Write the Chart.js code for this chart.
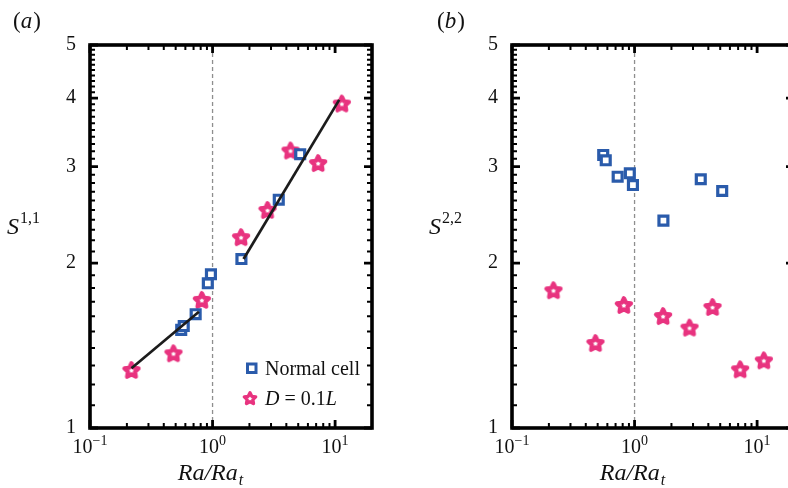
<!DOCTYPE html>
<html>
<head>
<meta charset="utf-8">
<script src="https://cdn.jsdelivr.net/npm/chart.js@4.4.1/dist/chart.umd.min.js"></script>
<style>
  html, body { margin: 0; padding: 0; background: #fff; }
  #wrap { position: relative; width: 788px; height: 488px; overflow: hidden; }
  #c1 { position: absolute; left: 0; top: 0; }
  #c2 { position: absolute; left: 394px; top: 0; }
</style>
</head>
<body>
<div id="wrap">
  <canvas id="c1" width="394" height="488" style="width:394px;height:488px"></canvas>
  <canvas id="c2" width="410" height="488" style="width:410px;height:488px"></canvas>
</div>
<script>
// Ra/Ra_t of each run
const cellX = [0.555, 0.582, 0.728, 0.915, 0.97, 1.72, 3.47, 5.19];
const holeX = [0.218, 0.48, 0.818, 1.71, 2.81, 4.33, 7.27, 11.35];

// panel (a): S^{1,1}
const cellS11 = [1.51, 1.535, 1.613, 1.837, 1.908, 2.034, 2.61, 3.16];
const holeS11 = [1.276, 1.369, 1.713, 2.23, 2.50, 3.21, 3.045, 3.91];

// panel (b): S^{2,2}
const cellS22 = [3.15, 3.08, 2.875, 2.916, 2.776, 2.39, 2.844, 2.707];
const holeS22 = [1.784, 1.429, 1.677, 1.601, 1.525, 1.663, 1.280, 1.329];

// fitted lines in panel (a)
const fitLowX = [0.218, 0.774];
const fitLowY = [1.285, 1.63];
const fitHighX = [1.79, 10.8];
const fitHighY = [2.034, 3.97];

// threshold Ra = Ra_t
const vlineX = [1, 1];
const vlineY = [1, 5];

// ticks
const xMajor = [0.1, 1, 10];
const xExp = ['\u22121', '0', '1'];
const xMinor = [0.2, 0.3, 0.4, 0.5, 0.6, 0.7, 0.8, 0.9, 2, 3, 4, 5, 6, 7, 8, 9, 20];
const yMajor = [1, 2, 3, 4, 5];
const yMinor = [];
for (let i = 11; i < 50; i++) if (i % 10) yMinor.push(i / 10);

const serif = '"Liberation Serif", "Times New Roman", serif';
const BLUE = '#2a5bab';
const PINK = '#e8337f';
const INK = '#111';

function pts(xs, ys) {
  return xs.map((x, i) => ({ x, y: ys[i] }));
}

function starImage(size, rOut, lw) {
  const c = document.createElement('canvas');
  c.width = size; c.height = size;
  const g = c.getContext('2d');
  const cx = size / 2, cy = size / 2 + 0.7, rIn = rOut * 0.5;
  g.beginPath();
  for (let i = 0; i < 10; i++) {
    const r = i % 2 ? rIn : rOut;
    const a = -Math.PI / 2 + i * Math.PI / 5;
    g.lineTo(cx + r * Math.cos(a), cy + r * Math.sin(a));
  }
  g.closePath();
  g.fillStyle = '#fff';
  g.fill();
  g.lineJoin = 'round';
  g.lineWidth = lw;
  g.strokeStyle = PINK;
  g.stroke();
  return c;
}

const starPt = starImage(26, 7.4, 4.2);
const starLeg = starImage(22, 6.0, 3.3);

// frame with inward ticks, x tick labels, titles
const decoPlugin = {
  id: 'deco',
  afterDatasetsDraw(chart, args, opts) {
    const { ctx, chartArea: a, scales: { x, y } } = chart;
    ctx.save();
    ctx.strokeStyle = '#000';

    ctx.lineWidth = 2;
    ctx.beginPath();
    xMinor.forEach(v => {
      const p = x.getPixelForValue(v);
      ctx.moveTo(p, a.bottom); ctx.lineTo(p, a.bottom - 5);
      ctx.moveTo(p, a.top); ctx.lineTo(p, a.top + 5);
    });
    yMinor.forEach(v => {
      const p = y.getPixelForValue(v);
      ctx.moveTo(a.left, p); ctx.lineTo(a.left + 5, p);
      ctx.moveTo(a.right, p); ctx.lineTo(a.right - 5, p);
    });
    ctx.stroke();

    ctx.lineWidth = 2.8;
    ctx.beginPath();
    xMajor.forEach(v => {
      const p = x.getPixelForValue(v);
      ctx.moveTo(p, a.bottom); ctx.lineTo(p, a.bottom - 8);
      ctx.moveTo(p, a.top); ctx.lineTo(p, a.top + 8);
    });
    yMajor.forEach(v => {
      const p = y.getPixelForValue(v);
      ctx.moveTo(a.left, p); ctx.lineTo(a.left + 8, p);
      ctx.moveTo(a.right, p); ctx.lineTo(a.right - 8, p);
    });
    ctx.stroke();

    ctx.lineWidth = 3.6;
    ctx.strokeRect(a.left, a.top, a.right - a.left, a.bottom - a.top);

    // x tick labels 10^n
    ctx.fillStyle = INK;
    ctx.textBaseline = 'alphabetic';
    ctx.textAlign = 'left';
    xMajor.forEach((v, i) => {
      const p = x.getPixelForValue(v);
      ctx.font = '20px ' + serif;
      const wb = ctx.measureText('10').width;
      ctx.font = '14px ' + serif;
      const we = ctx.measureText(xExp[i]).width;
      const x0 = p - (wb + we) / 2;
      ctx.font = '20px ' + serif;
      ctx.fillText('10', x0, a.bottom + 25);
      ctx.font = '14px ' + serif;
      ctx.fillText(xExp[i], x0 + wb, a.bottom + 17);
    });

    // x title Ra/Ra_t
    ctx.font = 'italic 24px ' + serif;
    const main = 'Ra/Ra';
    const wm = ctx.measureText(main).width;
    ctx.font = 'italic 16px ' + serif;
    const wt = ctx.measureText('t').width;
    const tx = a.left + 120 - (wm + wt) / 2;
    ctx.font = 'italic 24px ' + serif;
    ctx.fillText(main, tx, a.bottom + 52);
    ctx.font = 'italic 16px ' + serif;
    ctx.fillText('t', tx + wm + 1, a.bottom + 57);

    // y title S^{i,i}
    const sx = a.left - 83;
    ctx.font = 'italic 24px ' + serif;
    ctx.fillText('S', sx, 234);
    const ws = ctx.measureText('S').width;
    ctx.font = '16px ' + serif;
    ctx.fillText(opts.sup, sx + ws + 1, 223);

    // panel label
    const lx = a.left + opts.labelDx;
    ctx.font = '23px ' + serif;
    ctx.fillText('(', lx, 28);
    let w = ctx.measureText('(').width;
    ctx.font = 'italic 23px ' + serif;
    ctx.fillText(opts.panel, lx + w, 28);
    w += ctx.measureText(opts.panel).width;
    ctx.font = '23px ' + serif;
    ctx.fillText(')', lx + w + 1, 28);

    // legend (panel a only)
    if (opts.legend) {
      ctx.strokeStyle = BLUE;
      ctx.lineWidth = 3;
      ctx.fillStyle = '#fff';
      ctx.fillRect(247.5, 364, 8.5, 8.5);
      ctx.strokeRect(247.5, 364, 8.5, 8.5);
      ctx.drawImage(starLeg, 250 - 11, 398 - 11);
      ctx.fillStyle = INK;
      ctx.font = '20px ' + serif;
      ctx.fillText('Normal cell', 265, 375);
      ctx.font = 'italic 20px ' + serif;
      ctx.fillText('D', 265, 405);
      let lw = ctx.measureText('D').width;
      ctx.font = '20px ' + serif;
      ctx.fillText(' = 0.1', 265 + lw, 405);
      lw += ctx.measureText(' = 0.1').width;
      ctx.font = 'italic 20px ' + serif;
      ctx.fillText('L', 265 + lw, 405);
    }
    ctx.restore();
  }
};

function makeChart(id, cellY, holeY, withFits, yWidth, padRight, opts) {
  const datasets = [];
  if (withFits) {
    datasets.push({ data: pts(fitLowX, fitLowY), showLine: true, borderColor: '#1c1c1c', borderWidth: 2.7, pointRadius: 0 });
    datasets.push({ data: pts(fitHighX, fitHighY), showLine: true, borderColor: '#1c1c1c', borderWidth: 2.7, pointRadius: 0 });
  }
  datasets.push({
    data: pts(cellX, cellY), pointStyle: 'rect', pointRadius: 6.3,
    borderColor: BLUE, backgroundColor: '#fff', borderWidth: 3.2
  });
  datasets.push({ data: pts(holeX, holeY), pointStyle: starPt, pointRadius: 7 });
  datasets.push({
    data: pts(vlineX, vlineY), showLine: true, borderColor: '#8e8e8e', borderWidth: 1.3,
    borderDash: [4, 3], pointRadius: 0
  });

  return new Chart(document.getElementById(id), {
    type: 'scatter',
    data: { datasets },
    plugins: [decoPlugin],
    options: {
      responsive: false,
      animation: false,
      layout: { padding: { left: 0, right: padRight, top: 45, bottom: 0 } },
      scales: {
        x: {
          type: 'logarithmic', min: 0.1, max: 20,
          grid: { display: false }, border: { display: false },
          ticks: { display: false },
          afterFit: s => { s.height = 60; }
        },
        y: {
          type: 'logarithmic', min: 1, max: 5,
          grid: { display: false }, border: { display: false },
          afterBuildTicks: s => { s.ticks = yMajor.map(v => ({ value: v })); },
          ticks: {
            padding: 6, color: INK,
            font: { family: serif, size: 20 },
            callback: v => String(v)
          },
          afterFit: s => { s.width = yWidth; }
        }
      },
      plugins: {
        legend: { display: false },
        tooltip: { enabled: false },
        deco: opts
      }
    }
  });
}

makeChart('c1', cellS11, holeS11, true, 90, 22, { panel: 'a', sup: '1,1', labelDx: -77, legend: true });
makeChart('c2', cellS22, holeS22, false, 118, 10, { panel: 'b', sup: '2,2', labelDx: -75, legend: false });
</script>
</body>
</html>
